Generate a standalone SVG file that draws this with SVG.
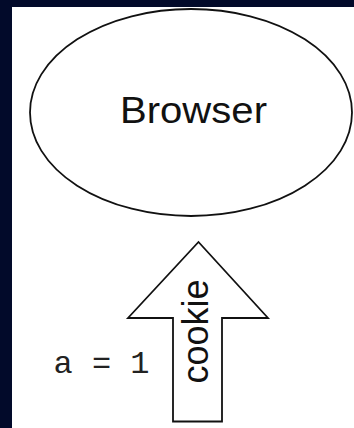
<svg xmlns="http://www.w3.org/2000/svg" width="354" height="428" viewBox="0 0 354 428">
<style>
.line{fill:#fff;stroke:#111;stroke-width:1.8}
.sans{font-family:"Liberation Sans",Arial,sans-serif;fill:#111}
.mono{font-family:"Liberation Mono","Courier New",monospace;fill:#222}
</style>
<rect x="0" y="0" width="354" height="428" fill="#020a2a"/>
<rect x="12" y="7" width="342" height="421" fill="#fff"/>
<g id="browser">
<ellipse class="line" cx="191" cy="112.5" rx="161" ry="103.5"/>
<text class="sans" x="193.5" y="123" font-size="37" text-anchor="middle" textLength="147" lengthAdjust="spacingAndGlyphs">Browser</text>
</g>
<g id="connectors">
<g id="cookie-arrow">
<polygon class="line" points="198.5,242 268,318 222,318 222,421.5 173,421.5 173,318 128,318"/>
<text class="sans" transform="translate(208,331.5) rotate(-90)" font-size="36" text-anchor="middle">cookie</text>
</g>
</g>
<g id="label">
<text class="mono" x="101.5" y="373" font-size="32" text-anchor="middle">a = 1</text>
</g>
</svg>
